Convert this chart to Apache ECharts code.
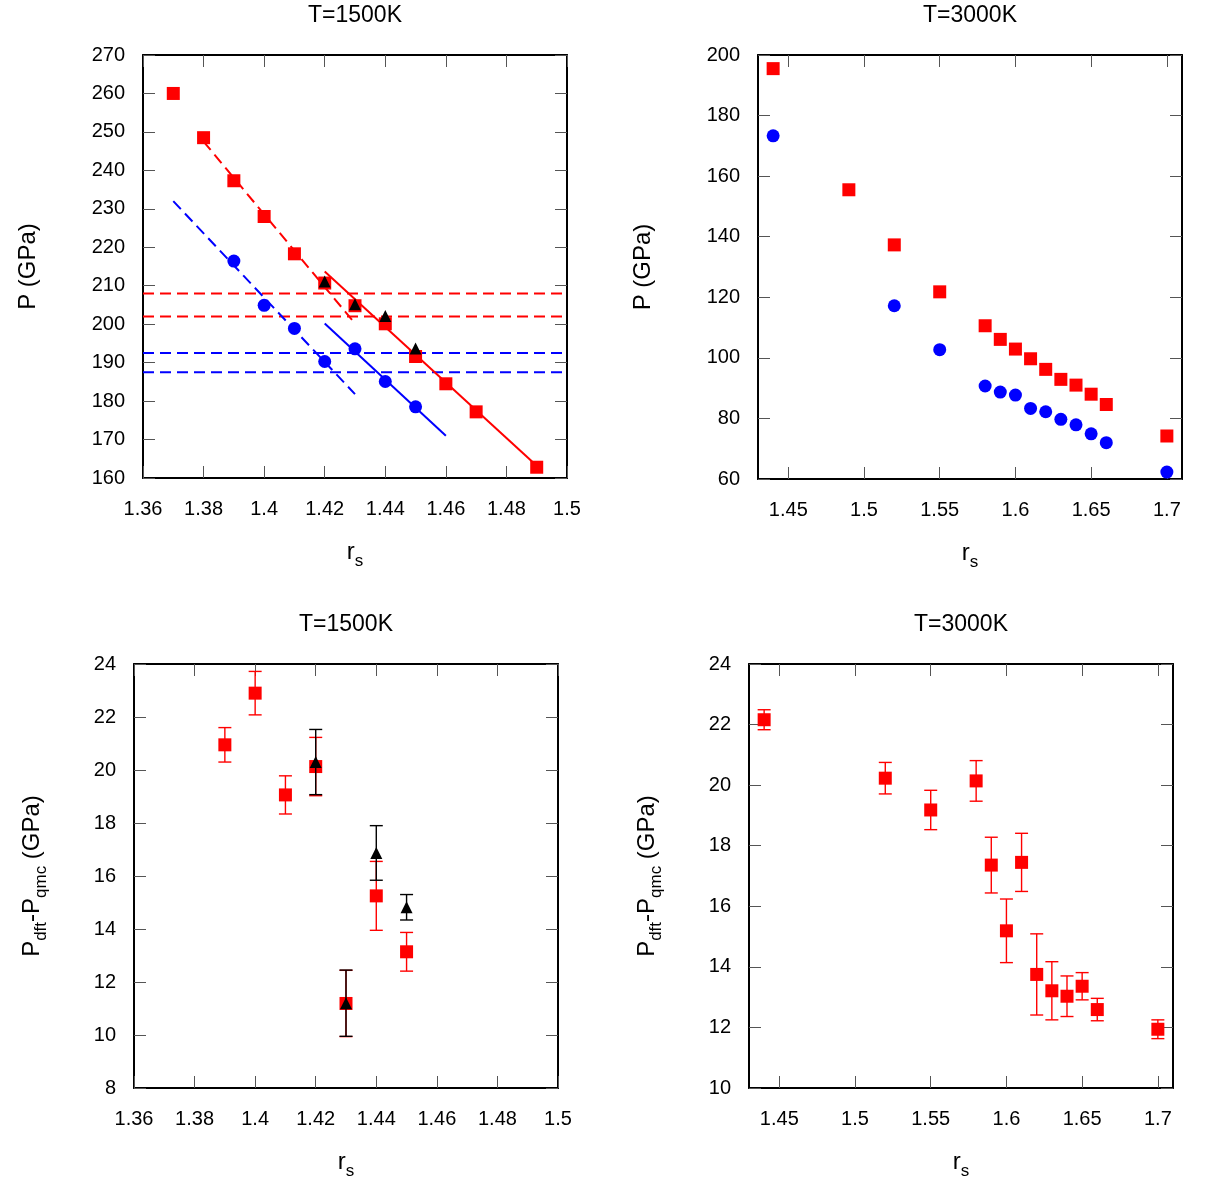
<!DOCTYPE html>
<html>
<head>
<meta charset="utf-8">
<script src="https://cdn.jsdelivr.net/npm/echarts@6/dist/echarts.min.js"></script>
<style>
  html, body { margin: 0; padding: 0; background: #fff; }
  #chart { width: 1211px; height: 1200px; }
</style>
</head>
<body>
<div id="chart"></div>
<script>
// T=1500K, pressure vs r_s
const rsRed1500 = [1.37, 1.38, 1.39, 1.40, 1.41, 1.42, 1.43, 1.44, 1.45, 1.46, 1.47, 1.49];
const pRed1500 = [260, 248.5, 237.3, 228, 218.3, 210.7, 204.8, 200.1, 191.6, 184.5, 177.2, 162.8];
const rsBlue1500 = [1.39, 1.40, 1.41, 1.42, 1.43, 1.44, 1.45];
const pBlue1500 = [216.4, 204.9, 198.9, 190.3, 193.6, 185.1, 178.5];
const rsTri1500 = [1.42, 1.43, 1.44, 1.45];
const pTri1500 = [211.1, 205.2, 202.1, 193.7];
// fitted segments (end points)
const redFitDashed = [[1.38, 247.5], [1.43, 200.2]];
const redFitSolid = [[1.42, 213.7], [1.49, 163.2]];
const blueFitDashed = [[1.37, 232], [1.43, 181.8]];
const blueFitSolid = [[1.42, 200.2], [1.46, 171]];
// horizontal levels
const redLevels = [208, 202];
const blueLevels = [192.5, 187.5];

// T=3000K, pressure vs r_s
const rsRed3000 = [1.44, 1.49, 1.52, 1.55, 1.58, 1.59, 1.60, 1.61, 1.62, 1.63, 1.64, 1.65, 1.66, 1.70];
const pRed3000 = [195.5, 155.5, 137.3, 121.8, 110.6, 106.1, 102.9, 99.7, 96.2, 92.9, 91, 88, 84.6, 74.2];
const rsBlue3000 = [1.44, 1.52, 1.55, 1.58, 1.59, 1.60, 1.61, 1.62, 1.63, 1.64, 1.65, 1.66, 1.70];
const pBlue3000 = [173.3, 117.2, 102.7, 90.7, 88.7, 87.7, 83.3, 82.2, 79.7, 77.9, 74.9, 72, 62.3];

// T=1500K, P_dft - P_qmc
const rsDiffRed1500 = [1.39, 1.40, 1.41, 1.42, 1.43, 1.44, 1.45];
const dRed1500 = [20.95, 22.9, 19.06, 20.13, 11.19, 15.25, 13.14];
const eRed1500 = [0.65, 0.82, 0.72, 1.1, 1.25, 1.3, 0.73];
const rsDiffTri1500 = [1.42, 1.43, 1.44, 1.45];
const dTri1500 = [20.3, 11.2, 16.87, 14.82];
const eTri1500 = [1.23, 1.25, 1.03, 0.48];

// T=3000K, P_dft - P_qmc
const rsDiff3000 = [1.44, 1.52, 1.55, 1.58, 1.59, 1.60, 1.61, 1.62, 1.63, 1.64, 1.65, 1.66, 1.70];
const dRed3000 = [22.16, 20.23, 19.18, 20.14, 17.36, 15.19, 17.45, 13.75, 13.21, 13.03, 13.36, 12.59, 11.94];
const eRed3000 = [0.33, 0.52, 0.65, 0.67, 0.92, 1.05, 0.96, 1.34, 0.96, 0.67, 0.45, 0.37, 0.31];

// tick labels for the 1.43..1.71 axes
const rsTicks3000 = [1.45, 1.5, 1.55, 1.6, 1.65, 1.7];

const FONT = "'Liberation Sans', Arial, Helvetica, sans-serif";
const RED = "#ff0000";
const BLUE = "#0000ff";

const grids = [
  { left: 143, top: 55, width: 424, height: 423 },
  { left: 758, top: 55, width: 424, height: 424 },
  { left: 134, top: 664, width: 424, height: 424 },
  { left: 749, top: 664, width: 424, height: 424 },
];

const frameLine = { show: true, onZero: false, lineStyle: { color: "#000", width: 2 } };
const tick = (custom) => {
  const t = { show: true, inside: true, length: 12, lineStyle: { color: "#555", width: 1 } };
  if (custom) t.customValues = custom;
  return t;
};
const labelStyle = { color: "#000", fontSize: 20, fontFamily: FONT };

const subRich = {
  a: { fontSize: 24, fontFamily: FONT, color: "#000", lineHeight: 30, verticalAlign: "top" },
  b: { fontSize: 17, fontFamily: FONT, color: "#000", lineHeight: 17, verticalAlign: "bottom" },
};

const rsName = {
  name: "{a|r}{b|s}",
  nameLocation: "middle",
  nameGap: 62,
  nameTextStyle: { rich: subRich },
};

const makeX = (gi, min, max, interval, custom) => {
  const bottom = {
    type: "value", gridIndex: gi, position: "bottom", min, max,
    splitLine: { show: false }, axisLine: frameLine, axisTick: tick(custom),
    axisLabel: Object.assign({ margin: 21 }, labelStyle),
    ...rsName,
  };
  const top = {
    type: "value", gridIndex: gi, position: "top", min, max,
    splitLine: { show: false }, axisLine: frameLine, axisTick: tick(custom),
    axisLabel: { show: false },
  };
  if (interval) {
    bottom.interval = interval;
    top.interval = interval;
  }
  if (custom) bottom.axisLabel.customValues = custom;
  return [bottom, top];
};

const makeY = (gi, min, max, interval, name, gap) => {
  const left = {
    type: "value", gridIndex: gi, position: "left", min, max, interval,
    splitLine: { show: false }, axisLine: frameLine, axisTick: tick(),
    axisLabel: Object.assign({ margin: 18 }, labelStyle),
    name, nameLocation: "middle", nameGap: gap,
    nameTextStyle: { color: "#000", fontSize: 24, fontFamily: FONT, rich: subRich },
  };
  const right = {
    type: "value", gridIndex: gi, position: "right", min, max, interval,
    splitLine: { show: false }, axisLine: frameLine, axisTick: tick(),
    axisLabel: { show: false },
  };
  return [left, right];
};

const zip = (xs, ys) => xs.map((x, i) => [x, ys[i]]);

const points = (gi, xs, ys, symbol, size, color, z) => ({
  type: "scatter", xAxisIndex: 2 * gi, yAxisIndex: 2 * gi,
  data: zip(xs, ys), symbol, symbolSize: size, z,
  itemStyle: { color, opacity: 1 }, silent: true,
});

const segment = (gi, data, color, dashed) => ({
  type: "line", xAxisIndex: 2 * gi, yAxisIndex: 2 * gi,
  data, symbol: "none", z: 1, silent: true,
  lineStyle: { color, width: 2, type: dashed ? [11, 6] : "solid" },
});

const level = (gi, y, color) => segment(gi, [[1.36, y], [1.5, y]], color, true);

const errorBars = (gi, xs, ys, es, color, z) => ({
  type: "custom", xAxisIndex: 2 * gi, yAxisIndex: 2 * gi, z, silent: true,
  data: xs.map((x, i) => [x, ys[i], es[i]]),
  encode: { x: 0, y: 1 },
  renderItem: (params, api) => {
    const x = api.value(0), y = api.value(1), e = api.value(2);
    const hi = api.coord([x, y + e]);
    const lo = api.coord([x, y - e]);
    const w = 6.5;
    const st = { stroke: color, lineWidth: 1.4 };
    return {
      type: "group",
      children: [
        { type: "line", shape: { x1: hi[0], y1: hi[1], x2: lo[0], y2: lo[1] }, style: st },
        { type: "line", shape: { x1: hi[0] - w, y1: hi[1], x2: hi[0] + w, y2: hi[1] }, style: st },
        { type: "line", shape: { x1: lo[0] - w, y1: lo[1], x2: lo[0] + w, y2: lo[1] }, style: st },
      ],
    };
  },
});

const title = (text, x, y) => ({
  type: "text", x, y,
  style: { text, fill: "#000", font: "23px " + FONT, textAlign: "center", textVerticalAlign: "middle" },
});

const diffName = "{a|P}{b|dft}{a|-P}{b|qmc}{a| (GPa)}";

const option = {
  animation: false,
  backgroundColor: "#fff",
  grid: grids,
  graphic: [
    title("T=1500K", 355, 16),
    title("T=3000K", 970, 16),
    title("T=1500K", 346, 625),
    title("T=3000K", 961, 625),
  ],
  xAxis: [
    ...makeX(0, 1.36, 1.5, 0.02),
    ...makeX(1, 1.43, 1.71, null, rsTicks3000),
    ...makeX(2, 1.36, 1.5, 0.02),
    ...makeX(3, 1.43, 1.71, null, rsTicks3000),
  ],
  yAxis: [
    ...makeY(0, 160, 270, 10, "P (GPa)", 103),
    ...makeY(1, 60, 200, 20, "P (GPa)", 103),
    ...makeY(2, 8, 24, 2, diffName, 84),
    ...makeY(3, 10, 24, 2, diffName, 84),
  ],
  series: [
    // top left
    ...redLevels.map((y) => level(0, y, RED)),
    ...blueLevels.map((y) => level(0, y, BLUE)),
    segment(0, redFitDashed, RED, true),
    segment(0, redFitSolid, RED, false),
    segment(0, blueFitDashed, BLUE, true),
    segment(0, blueFitSolid, BLUE, false),
    points(0, rsRed1500, pRed1500, "rect", 13, RED, 3),
    points(0, rsBlue1500, pBlue1500, "circle", 13, BLUE, 3),
    points(0, rsTri1500, pTri1500, "triangle", 12, "#000", 4),
    // top right
    points(1, rsRed3000, pRed3000, "rect", 13, RED, 3),
    points(1, rsBlue3000, pBlue3000, "circle", 13, BLUE, 3),
    // bottom left
    errorBars(2, rsDiffRed1500, dRed1500, eRed1500, RED, 2),
    points(2, rsDiffRed1500, dRed1500, "rect", 13, RED, 3),
    errorBars(2, rsDiffTri1500, dTri1500, eTri1500, "#000", 4),
    points(2, rsDiffTri1500, dTri1500, "triangle", 12, "#000", 5),
    // bottom right
    errorBars(3, rsDiff3000, dRed3000, eRed3000, RED, 2),
    points(3, rsDiff3000, dRed3000, "rect", 13, RED, 3),
  ],
};

const myChart = echarts.init(document.getElementById("chart"), null, { renderer: "canvas" });
myChart.setOption(option);
</script>
</body>
</html>
